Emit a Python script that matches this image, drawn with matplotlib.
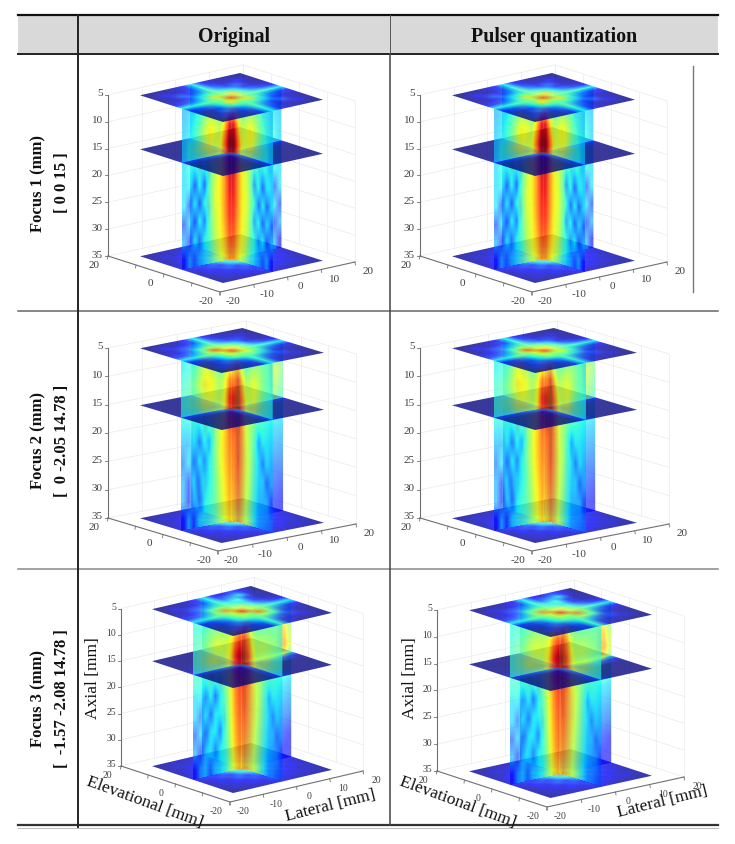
"""
plot.py
-------
Table of 3D beam-field slices: three focal points (rows), original and
pulser-quantized excitation (columns). Three horizontal slices and two crossed
vertical planes are drawn in each cell, back to front.
"""

import numpy as np
import matplotlib
matplotlib.use("Agg")
import matplotlib.pyplot as plt
from matplotlib.patches import Polygon, Rectangle
from matplotlib.transforms import Affine2D

plt.rcParams["font.family"] = ["Liberation Serif", "DejaVu Serif"]

COLUMNS = ["Original", "Pulser quantization"]
ROW_TITLES = ["Focus 1 (mm)", "Focus 2 (mm)", "Focus 3 (mm)"]
ROW_COORDS = ["[ 0 0 15 ]", "[  0 -2.05 14.78 ]", "[  -1.57 -2.08 14.78 ]"]

Z_TICKS = [5, 10, 15, 20, 25, 30, 35]
LATERAL_TICKS = [-20, -10, 0, 10, 20]
ELEVATION_TICKS = [20, 0, -20]
SLICE_HALF = 14.8  # mm, half width of the slices and planes

# --- Vertical planes: rows z = 5 -> 35, columns centre -> edge ---
F1_HALF = [
    [.60, .50, .40, .45, .50, .45, .40, .35, .33, .30],
    [.92, .70, .55, .62, .66, .60, .48, .40, .35, .32],
    [1.0, .80, .62, .60, .66, .58, .50, .42, .38, .33],
    [.98, .76, .62, .58, .50, .38, .42, .36, .38, .34],
    [.92, .76, .65, .60, .45, .22, .38, .20, .37, .34],
    [.90, .76, .65, .62, .48, .37, .20, .37, .18, .36],
    [.88, .75, .64, .60, .46, .24, .37, .18, .35, .18],
    [.84, .72, .63, .58, .44, .37, .22, .37, .16, .30],
    [.78, .68, .62, .54, .42, .36, .30, .20, .30, .12],
]
F2_LAT_FRONT = [
    [.50, .45, .42, .45, .55, .60, .50, .42, .38, .36],
    [.78, .62, .52, .60, .66, .68, .60, .50, .44, .40],
    [.88, .66, .56, .60, .64, .62, .52, .46, .42, .40],
    [.86, .68, .60, .56, .46, .44, .38, .40, .36, .36],
    [.80, .70, .62, .50, .30, .38, .22, .37, .30, .30],
    [.78, .70, .62, .50, .38, .24, .38, .20, .36, .24],
    [.76, .68, .60, .48, .36, .36, .22, .36, .16, .30],
    [.74, .66, .58, .46, .40, .36, .20, .36, .14, .30],
    [.70, .64, .56, .46, .42, .38, .34, .16, .32, .10],
]
F2_LAT_BACK = [
    [.45, .42, .42, .45, .48, .50, .50, .50, .48, .45],
    [.62, .55, .52, .56, .60, .62, .63, .62, .58, .50],
    [.72, .60, .55, .56, .58, .58, .58, .56, .52, .46],
    [.70, .58, .52, .50, .46, .44, .44, .42, .40, .38],
    [.66, .58, .50, .42, .36, .36, .34, .34, .33, .32],
    [.62, .56, .46, .38, .34, .30, .30, .30, .28, .27],
    [.60, .54, .44, .36, .30, .28, .26, .24, .22, .22],
    [.58, .50, .42, .34, .28, .24, .22, .20, .18, .16],
    [.55, .48, .40, .32, .26, .22, .18, .16, .14, .12],
]
F2_ELEV_FRONT = [
    [.60, .64, .50, .42, .45, .50, .48, .42, .38, .34],
    [.82, .94, .72, .56, .60, .64, .56, .46, .40, .36],
    [.94, 1.0, .82, .64, .60, .64, .54, .46, .42, .38],
    [.92, 1.0, .80, .62, .56, .50, .42, .42, .38, .36],
    [.86, .94, .80, .65, .58, .44, .26, .36, .36, .33],
    [.84, .93, .80, .66, .60, .44, .34, .22, .36, .30],
    [.82, .90, .78, .65, .58, .42, .34, .34, .20, .30],
    [.78, .86, .76, .64, .55, .40, .32, .32, .32, .18],
    [.72, .80, .72, .62, .52, .38, .30, .28, .26, .24],
]
F3_LAT_FRONT = [
    [.50, .48, .45, .42, .42, .44, .44, .42, .40, .38],
    [.84, .76, .62, .58, .60, .60, .56, .50, .46, .42],
    [.96, .88, .68, .60, .58, .60, .58, .52, .46, .42],
    [.94, .84, .66, .56, .50, .44, .44, .40, .40, .40],
    [.86, .78, .63, .48, .36, .22, .38, .24, .36, .34],
    [.84, .76, .62, .46, .36, .36, .22, .38, .22, .34],
    [.82, .74, .60, .44, .24, .36, .36, .20, .34, .20],
    [.80, .72, .58, .42, .36, .24, .36, .34, .16, .30],
    [.74, .68, .56, .40, .36, .34, .22, .34, .28, .12],
]
F3_LAT_BACK = [
    [.42, .42, .42, .45, .48, .48, .50, .55, .50, .42],
    [.60, .55, .50, .50, .52, .56, .62, .70, .68, .55],
    [.70, .60, .52, .50, .50, .54, .62, .72, .74, .60],
    [.68, .58, .50, .46, .42, .42, .46, .52, .54, .46],
    [.64, .56, .46, .38, .34, .33, .34, .36, .36, .34],
    [.60, .52, .42, .34, .30, .30, .30, .30, .30, .28],
    [.58, .50, .40, .32, .28, .26, .26, .24, .24, .22],
    [.55, .46, .38, .30, .26, .22, .20, .18, .16, .14],
    [.50, .44, .36, .28, .24, .20, .16, .14, .12, .10],
]
F3_ELEV_FRONT = [
    [.60, .55, .46, .42, .40, .42, .44, .42, .40, .38],
    [.92, .80, .62, .56, .58, .58, .54, .50, .44, .40],
    [1.0, .90, .70, .60, .58, .58, .54, .48, .44, .40],
    [1.0, .88, .70, .62, .56, .50, .42, .42, .38, .36],
    [.94, .84, .72, .64, .58, .44, .28, .36, .36, .33],
    [.92, .82, .72, .64, .56, .42, .34, .24, .34, .30],
    [.88, .80, .70, .62, .52, .40, .33, .32, .22, .28],
    [.84, .76, .68, .60, .50, .38, .32, .30, .28, .18],
    [.78, .72, .66, .58, .46, .36, .28, .26, .22, .20],
]

# --- Horizontal slices: rows elevation -15 -> 15, columns lateral -15 -> 15 ---
TOP_F1 = [
    [.03, .05, .05, .08, .16, .38, .16, .08, .05, .05, .03],
    [.05, .14, .08, .10, .20, .40, .20, .10, .08, .14, .05],
    [.05, .08, .22, .18, .28, .44, .28, .18, .22, .08, .05],
    [.08, .10, .18, .34, .42, .48, .42, .34, .18, .10, .08],
    [.16, .20, .28, .42, .68, .56, .68, .42, .28, .20, .16],
    [.38, .40, .44, .48, .56, .86, .56, .48, .44, .40, .38],
    [.16, .20, .28, .42, .68, .56, .68, .42, .28, .20, .16],
    [.08, .10, .18, .34, .42, .48, .42, .34, .18, .10, .08],
    [.05, .08, .22, .18, .28, .44, .28, .18, .22, .08, .05],
    [.05, .14, .08, .10, .20, .40, .20, .10, .08, .14, .05],
    [.03, .05, .05, .08, .16, .38, .16, .08, .05, .05, .03],
]
TOP_F2 = [
    [.03, .05, .05, .08, .14, .36, .14, .06, .05, .04, .03],
    [.05, .12, .08, .10, .18, .38, .18, .10, .08, .10, .04],
    [.05, .08, .20, .18, .26, .42, .26, .18, .18, .06, .05],
    [.08, .10, .18, .34, .42, .48, .42, .32, .16, .08, .06],
    [.14, .18, .26, .40, .60, .56, .64, .42, .26, .18, .14],
    [.36, .38, .44, .50, .64, .86, .62, .48, .42, .38, .36],
    [.18, .22, .32, .54, .84, .64, .60, .44, .26, .18, .14],
    [.10, .14, .22, .40, .54, .52, .44, .34, .16, .08, .06],
    [.06, .08, .20, .24, .34, .44, .28, .18, .18, .06, .05],
    [.05, .14, .08, .12, .20, .40, .20, .10, .08, .10, .04],
    [.03, .05, .05, .08, .16, .38, .16, .08, .05, .04, .03],
]
TOP_F3 = [
    [.03, .05, .05, .08, .14, .38, .14, .06, .05, .04, .03],
    [.05, .12, .08, .10, .20, .40, .18, .10, .08, .10, .04],
    [.05, .08, .20, .20, .30, .44, .30, .20, .18, .06, .05],
    [.08, .10, .20, .36, .44, .50, .56, .42, .18, .08, .06],
    [.14, .18, .28, .42, .58, .56, .80, .52, .28, .18, .14],
    [.36, .38, .46, .50, .62, .88, .60, .52, .44, .38, .36],
    [.18, .22, .32, .54, .78, .60, .58, .44, .28, .18, .14],
    [.10, .14, .22, .42, .54, .50, .44, .36, .18, .08, .06],
    [.06, .08, .20, .24, .32, .42, .36, .42, .18, .06, .05],
    [.05, .12, .08, .12, .20, .40, .22, .28, .36, .10, .04],
    [.03, .05, .05, .08, .16, .38, .16, .12, .20, .14, .03],
]
MID_F1 = [
    [.03, .03, .03, .03, .04, .14, .04, .03, .03, .03, .03],
    [.03, .03, .03, .03, .04, .16, .04, .03, .03, .03, .03],
    [.03, .03, .03, .03, .05, .18, .05, .03, .03, .03, .03],
    [.03, .03, .03, .04, .06, .22, .06, .04, .03, .03, .03],
    [.04, .04, .05, .06, .08, .30, .08, .06, .05, .04, .04],
    [.14, .16, .18, .22, .30, .95, .30, .22, .18, .16, .14],
    [.04, .04, .05, .06, .08, .30, .08, .06, .05, .04, .04],
    [.03, .03, .03, .04, .06, .22, .06, .04, .03, .03, .03],
    [.03, .03, .03, .03, .05, .18, .05, .03, .03, .03, .03],
    [.03, .03, .03, .03, .04, .16, .04, .03, .03, .03, .03],
    [.03, .03, .03, .03, .04, .14, .04, .03, .03, .03, .03],
]
MID_F3 = [
    [.03, .03, .03, .03, .04, .14, .04, .03, .03, .03, .03],
    [.03, .03, .03, .03, .04, .16, .04, .03, .03, .03, .03],
    [.03, .03, .03, .03, .05, .18, .05, .03, .03, .03, .03],
    [.03, .03, .03, .04, .06, .22, .06, .05, .04, .03, .03],
    [.04, .04, .05, .06, .08, .30, .10, .18, .24, .20, .10],
    [.16, .18, .20, .24, .30, .95, .36, .50, .66, .62, .34],
    [.06, .08, .10, .10, .08, .30, .10, .18, .24, .20, .10],
    [.04, .04, .04, .05, .06, .22, .06, .04, .03, .03, .03],
    [.03, .03, .03, .03, .05, .18, .05, .03, .03, .03, .03],
    [.03, .03, .03, .03, .04, .16, .04, .03, .03, .03, .03],
    [.03, .03, .03, .03, .04, .14, .04, .03, .03, .03, .03],
]
BOTTOM = [
    [.05, .06, .08, .07, .10, .12, .10, .07, .08, .06, .05],
    [.06, .10, .08, .14, .12, .18, .12, .14, .08, .10, .06],
    [.08, .08, .15, .12, .20, .16, .20, .12, .15, .08, .08],
    [.07, .14, .12, .22, .18, .30, .18, .22, .12, .14, .07],
    [.10, .12, .20, .18, .34, .45, .34, .18, .20, .12, .10],
    [.12, .18, .16, .30, .45, .80, .45, .30, .16, .18, .12],
    [.10, .12, .20, .18, .34, .45, .34, .18, .20, .12, .10],
    [.07, .14, .12, .22, .18, .30, .18, .22, .12, .14, .07],
    [.08, .08, .15, .12, .20, .16, .20, .12, .15, .08, .08],
    [.06, .10, .08, .14, .12, .18, .12, .14, .08, .10, .06],
    [.05, .06, .08, .07, .10, .12, .10, .07, .08, .06, .05],
]

FOCUS_DATA = [
    dict(top=TOP_F1, mid=MID_F1, bottom=BOTTOM, lat_front=F1_HALF, lat_back=F1_HALF,
         elev_front=F1_HALF, elev_back=F1_HALF),
    dict(top=TOP_F2, mid=MID_F1, bottom=BOTTOM, lat_front=F2_LAT_FRONT, lat_back=F2_LAT_BACK,
         elev_front=F2_ELEV_FRONT, elev_back=F2_LAT_FRONT),
    dict(top=TOP_F3, mid=MID_F3, bottom=BOTTOM, lat_front=F3_LAT_FRONT, lat_back=F3_LAT_BACK,
         elev_front=F3_ELEV_FRONT, elev_back=F3_LAT_FRONT),
]

# Floor corners of each 3D box in figure pixels, and pixels per mm of depth
PANELS = [
    dict(row=0, col=0, left=(108, 257), front=(220, 293), right=(355, 263), zs=5.37, tick_fs=8.0),
    dict(row=0, col=1, left=(420, 257), front=(532, 293), right=(667, 263), zs=5.37, tick_fs=8.0),
    dict(row=1, col=0, left=(108, 519), front=(218, 552), right=(356, 525), zs=5.67, tick_fs=8.0),
    dict(row=1, col=1, left=(420, 519), front=(532, 552), right=(669, 525), zs=5.67, tick_fs=8.0),
    dict(row=2, col=0, left=(121, 767), front=(230, 803), right=(363, 772), zs=5.25, tick_fs=7.0),
    dict(row=2, col=1, left=(437, 772), front=(547, 808), right=(684, 778), zs=5.37, tick_fs=7.0),
]
# Axis title anchors for the last row: (axial, elevational, lateral)
AXIS_TITLES = {0: [(93, 678), (145, 802), (330, 806)], 1: [(410, 678), (458, 802), (662, 802)]}

GRID = "#ececec"
AXIS = "#707070"
TICK_TEXT = "#404040"
PLANE_ALPHA = 0.62
SLICE_ALPHA = 0.78


def project(p, lat, elev, z):
    """Lateral, elevational and axial mm -> figure pixels."""
    lx, ly = p["left"]
    fx, fy = p["front"]
    rx, ry = p["right"]
    x = (lx + rx) / 2 + lat * (rx - fx) / 40 + elev * (lx - fx) / 40
    y = (ly + ry) / 2 + lat * (ry - fy) / 40 + elev * (ly - fy) / 40 + (z - 35) * p["zs"]
    return x, y


def draw_field(ax, values, origin, u_end, v_end, alpha, zorder, clip=None, vmin=0.0):
    # Heat map on the parallelogram given by three projected corners
    ox, oy = origin
    to_pixels = Affine2D.from_values(u_end[0] - ox, u_end[1] - oy,
                                     v_end[0] - ox, v_end[1] - oy, ox, oy)
    im = ax.imshow(np.asarray(values), cmap="jet", vmin=vmin, vmax=1, origin="lower",
                   extent=(0, 1, 0, 1), aspect="auto", interpolation="bilinear",
                   alpha=alpha, zorder=zorder, transform=to_pixels + ax.transData)
    if clip is not None:
        im.set_clip_path(Polygon(clip, closed=True, transform=ax.transData))
    return im


def draw_slice(ax, p, values, z, zorder):
    s = SLICE_HALF
    draw_field(ax, values, project(p, -s, -s, z), project(p, s, -s, z),
               project(p, -s, s, z), SLICE_ALPHA, zorder, vmin=0.03)


def draw_half_plane(ax, p, values, start, end, z_range, half, zorder):
    # Plane from start to end (lat, elev); half 0 or 1 selects one side of the centre
    z0, z1 = z_range
    mid = ((start[0] + end[0]) / 2, (start[1] + end[1]) / 2)
    a, b = (start, mid) if half == 0 else (mid, end)
    clip = [project(p, a[0], a[1], z0), project(p, b[0], b[1], z0),
            project(p, b[0], b[1], z1), project(p, a[0], a[1], z1)]
    draw_field(ax, values, project(p, start[0], start[1], 5), project(p, end[0], end[1], 5),
               project(p, start[0], start[1], 35), PLANE_ALPHA, zorder, clip)


def draw_box(ax, p):
    # Back walls with their grid, then the three visible axes with ticks
    walls = [((-20, 20), (20, 20)), ((20, 20), (20, -20))]
    for a, b in walls:
        for z in Z_TICKS:
            xs, ys = zip(project(p, a[0], a[1], z), project(p, b[0], b[1], z))
            ax.plot(xs, ys, color=GRID, lw=0.55, zorder=0.5)
        for t in [0.0, 0.25, 0.5, 0.75, 1.0]:
            la, el = a[0] + t * (b[0] - a[0]), a[1] + t * (b[1] - a[1])
            xs, ys = zip(project(p, la, el, 5), project(p, la, el, 35))
            ax.plot(xs, ys, color=GRID, lw=0.55, zorder=0.5)
    xs, ys = zip(project(p, -20, 20, 5), project(p, -20, 20, 35))
    ax.plot(xs, ys, color=AXIS, lw=0.8, zorder=0.6)
    xs, ys = zip(project(p, -20, 20, 35), project(p, -20, -20, 35), project(p, 20, -20, 35))
    ax.plot(xs, ys, color=AXIS, lw=0.8, zorder=0.6)
    fs = p["tick_fs"]
    for z in Z_TICKS:
        x, y = project(p, -20, 20, z)
        ax.plot([x - 2.5, x], [y, y], color=AXIS, lw=0.6, zorder=0.6)
        ax.text(x - 5, y - 2, str(z), ha="right", va="center", fontsize=fs, color=TICK_TEXT)
    for la in LATERAL_TICKS:
        x, y = project(p, la, -20, 35)
        ax.plot([x, x + 0.5], [y, y + 3], color=AXIS, lw=0.6, zorder=0.6)
        ax.text(x + 13, y + 9, str(la), ha="center", va="center", fontsize=fs, color=TICK_TEXT)
    for el in [20, 10, 0, -10, -20]:
        x, y = project(p, -20, el, 35)
        ax.plot([x, x - 0.5], [y, y + 3], color=AXIS, lw=0.6, zorder=0.6)
        if el in ELEVATION_TICKS:
            ax.text(x - 14, y + 8.5, str(el), ha="center", va="center", fontsize=fs, color=TICK_TEXT)


def draw_panel(ax, p, data, base):
    s = SLICE_HALF
    lat_plane = np.hstack([np.asarray(data["lat_front"])[:, ::-1], np.asarray(data["lat_back"])])
    elev_plane = np.hstack([np.asarray(data["elev_back"])[:, ::-1], np.asarray(data["elev_front"])])
    lat_ends = ((-s, 0), (s, 0))
    elev_ends = ((0, s), (0, -s))

    draw_box(ax, p)
    order = base
    draw_slice(ax, p, data["bottom"], 35, order)
    # below the middle slice first, back halves behind front halves
    for z_range, z_slice, values in [((15, 35), 15, data["mid"]), ((5, 15), 5, data["top"])]:
        for plane, ends, half in [(lat_plane, lat_ends, 1), (elev_plane, elev_ends, 0),
                                  (lat_plane, lat_ends, 0), (elev_plane, elev_ends, 1)]:
            order += 0.01
            draw_half_plane(ax, p, plane, ends[0], ends[1], z_range, half, order)
        order += 0.01
        draw_slice(ax, p, values, z_slice, order)


def draw_table(ax):
    ax.add_patch(Rectangle((18, 17), 700, 38, facecolor="#d9d9d9", edgecolor="none", zorder=0.1))
    ax.plot([18, 718], [16, 16], color="#111111", lw=1.6, zorder=5)
    ax.plot([18, 718], [55, 55], color="#222222", lw=1.4, zorder=5)
    ax.plot([18, 718], [312, 312], color="#666666", lw=1.1, zorder=5)
    ax.plot([18, 718], [570, 570], color="#888888", lw=1.1, zorder=5)
    ax.plot([18, 718], [826, 826], color="#333333", lw=1.6, zorder=5)
    ax.plot([18, 718], [829, 829], color="#bbbbbb", lw=0.7, zorder=5)
    ax.plot([78, 78], [16, 828], color="#222222", lw=1.4, zorder=5)
    ax.plot([390, 390], [16, 55], color="#555555", lw=0.7, zorder=5)
    ax.plot([390, 390], [55, 826], color="#444444", lw=1.1, zorder=5)
    # stray rule at the right of the first row
    ax.plot([692.7, 692.7], [67, 293], color="#777777", lw=1.0, zorder=5)

    for name, x in zip(COLUMNS, [234, 554]):
        ax.text(x, 37, name, ha="center", va="center", fontsize=14.3, fontweight="bold", color="#111111")
    for title, coords, y in zip(ROW_TITLES, ROW_COORDS, [183, 441, 699]):
        ax.text(38, y, title, ha="center", va="center", rotation=90, fontsize=12,
                fontweight="bold", color="#111111")
        ax.text(62, y, coords, ha="center", va="center", rotation=90, fontsize=12,
                fontweight="bold", color="#111111")


def main():
    fig = plt.figure(figsize=(7.35, 8.45), dpi=100, facecolor="white")
    ax = fig.add_axes([0, 0, 1, 1])

    draw_table(ax)
    for i, p in enumerate(PANELS):
        draw_panel(ax, p, FOCUS_DATA[p["row"]], 1 + i)

    for col, anchors in AXIS_TITLES.items():
        for (x, y), name, angle in zip(anchors, ["Axial [mm]", "Elevational [mm]", "Lateral [mm]"],
                                       [90, -20, 14]):
            ax.text(x, y, name, ha="center", va="center", rotation=angle,
                    rotation_mode="anchor", fontsize=12.6, color="#111111", zorder=20)

    ax.set_xlim(0, 735)
    ax.set_ylim(845, 0)
    ax.axis("off")
    fig.savefig("out.png", dpi=100, facecolor="white")
    plt.close(fig)


if __name__ == "__main__":
    main()
